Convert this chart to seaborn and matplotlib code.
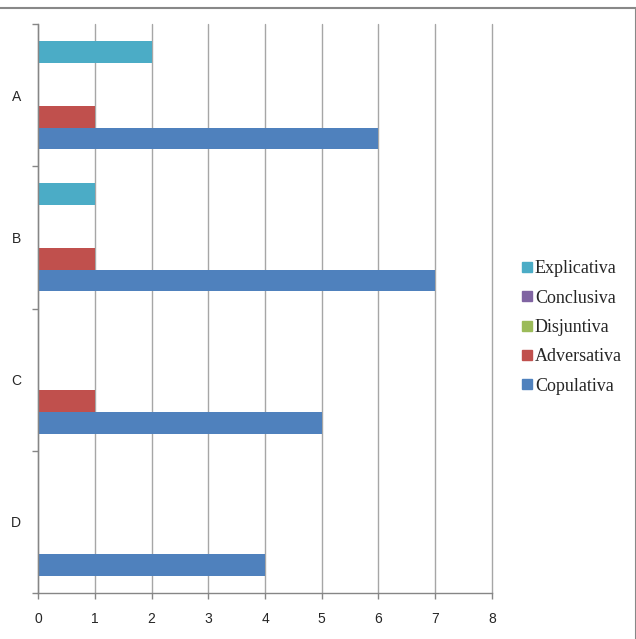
import pandas as pd
import numpy as np
import seaborn as sns
import matplotlib.pyplot as plt
from matplotlib.lines import Line2D

# data
categories = ['A', 'B', 'C', 'D']
series = ['Explicativa', 'Conclusiva', 'Disjuntiva', 'Adversativa', 'Copulativa']
explicativa = [2, 1, 0, 0]
conclusiva = [0, 0, 0, 0]
disjuntiva = [0, 0, 0, 0]
adversativa = [1, 1, 1, 0]
copulativa = [6, 7, 5, 4]
x_ticks = [0, 1, 2, 3, 4, 5, 6, 7, 8]

colors = {'Explicativa': '#4BACC6', 'Conclusiva': '#8064A2', 'Disjuntiva': '#9BBB59',
          'Adversativa': '#C0504D', 'Copulativa': '#4F81BD'}

# long format table for seaborn
values = {'Explicativa': explicativa, 'Conclusiva': conclusiva, 'Disjuntiva': disjuntiva,
          'Adversativa': adversativa, 'Copulativa': copulativa}
rows = []
for s in series:
    for c, v in zip(categories, values[s]):
        rows.append({'cat': c, 'tipo': s, 'valor': v})
df = pd.DataFrame(rows)

sns.set_style('white')
plt.rcParams['font.family'] = ['Liberation Sans', 'DejaVu Sans']

fig = plt.figure(figsize=(6.36, 6.39), dpi=100)
ax = fig.add_axes([38 / 636, 46 / 639, 454 / 636, 569 / 639])

sns.barplot(data=df, y='cat', x='valor', hue='tipo', order=categories, hue_order=series,
            palette=colors, orient='h', width=0.76, linewidth=0, saturation=1,
            legend=False, ax=ax)

ax.set_xlim(0, 8)
ax.set_ylim(3.5, -0.5)
ax.set_xticks(x_ticks)
ax.set_xticklabels([str(t) for t in x_ticks])
ax.xaxis.grid(True, color='#a6a6a6', linewidth=1)
for line in ax.get_xgridlines():
    line.set_clip_on(False)
ax.set_axisbelow(True)

# y ticks at the category boundaries, labels at the centres
ax.set_yticks(np.arange(-0.5, 4, 1))
ax.set_yticklabels([])
ax.set_yticks(range(len(categories)), minor=True)
ax.set_yticklabels(categories, minor=True)
ax.tick_params(axis='y', which='major', length=4, color='#868686', width=1, left=True)
ax.tick_params(axis='y', which='minor', length=0, pad=12, labelsize=10)
ax.tick_params(axis='x', length=4, color='#868686', width=1, pad=10, labelsize=10, bottom=True)

ax.set_xlabel('')
ax.set_ylabel('')
for side in ['top', 'right']:
    ax.spines[side].set_visible(False)
for side in ['left', 'bottom']:
    ax.spines[side].set_color('#868686')
    ax.spines[side].set_linewidth(1)

# legend
handles = [Line2D([], [], marker='s', linestyle='', markersize=6.5, color=colors[s]) for s in series]
leg = ax.legend(handles, series, loc='center left', bbox_to_anchor=(514 / 636, 311.5 / 639),
                bbox_transform=fig.transFigure, frameon=False, handlelength=0.6,
                handletextpad=0.15, labelspacing=0.68, borderaxespad=0,
                prop={'family': 'Liberation Serif', 'size': 13})

# outer frame (top and right)
fig.add_artist(Line2D([0, 635.5 / 636], [631 / 639, 631 / 639], transform=fig.transFigure,
                      color='#888888', linewidth=1.5))
fig.add_artist(Line2D([635.5 / 636, 635.5 / 636], [0, 631 / 639], transform=fig.transFigure,
                      color='#888888', linewidth=1.5))

fig.savefig('out.png', dpi=100)
